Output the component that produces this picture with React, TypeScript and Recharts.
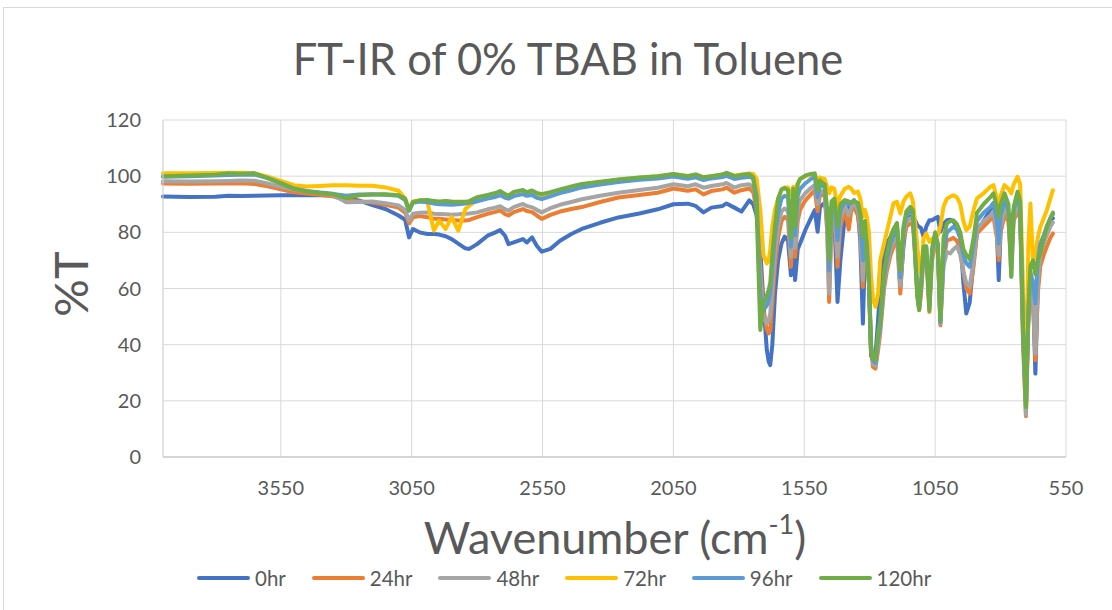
import React from 'react';
import { LineChart, Line, XAxis, YAxis, CartesianGrid } from 'recharts';

const wavenumbers = [
  4000,3900,3800,3750,3700,3650,3600,3550,3500,3450,
  3400,3350,3300,3250,3200,3150,3100,3075,3060,3045,
  3020,2990,2965,2945,2920,2897,2872,2845,2830,2800,
  2760,2730,2712,2693,2680,2660,2625,2610,2590,2572,
  2553,2520,2483,2440,2400,2330,2260,2180,2110,2050,
  1995,1965,1935,1905,1862,1847,1817,1790,1760,1745,
  1732,1718,1706,1693,1686,1680,1672,1662,1650,1637,
  1625,1612,1601,1592,1585,1575,1566,1545,1525,1510,
  1499,1490,1472,1462,1455,1446,1435,1423,1412,1395,
  1380,1370,1360,1345,1336,1326,1318,1311,1303,1295,
  1287,1278,1268,1260,1245,1235,1220,1209,1196,1183,
  1171,1160,1145,1135,1126,1118,1111,1104,1094,1084,
  1072,1062,1050,1040,1030,1018,1005,992,980,967,
  954,942,931,918,903,890,865,839,827,814,
  807,800,785,770,759,750,735,725,714,703,
  694,686,676,667,658,648,635,623,610,600,
];

const t0hr = [
  92.8,92.6,92.7,93.0,92.9,93.0,93.1,93.2,93.2,93.3,
  93.2,93.1,92.3,91.3,89.7,88.3,86.0,84.5,78.2,81.2,
  80.0,79.4,79.4,79.2,78.6,77.6,76.0,74.3,74.1,75.8,
  78.8,80.0,80.8,78.8,75.8,76.4,77.6,76.4,78.2,75.2,
  73.1,74.1,77.0,79.4,81.2,83.4,85.3,86.7,88.2,90.0,
  90.2,89.4,87.1,88.8,89.4,90.3,88.8,87.4,91.4,90.0,
  86.0,74.0,55.0,38.0,34.0,32.7,40.0,58.0,70.0,76.0,
  78.5,77.0,64.7,77.0,63.0,74.0,76.0,81.0,85.0,87.9,
  80.2,89.0,90.5,86.0,82.0,88.0,85.0,55.2,70.0,86.0,
  89.0,90.5,91.4,87.0,77.0,47.5,73.6,72.0,65.0,36.0,
  34.5,36.0,48.7,60.6,73.0,76.0,78.4,81.0,83.2,60.6,
  74.9,84.0,85.5,84.8,84.3,82.5,82.0,81.5,78.4,82.0,
  84.3,84.3,85.0,85.5,80.2,83.0,84.3,84.5,83.8,82.0,
  78.0,62.0,51.1,55.0,70.0,80.0,84.0,88.0,90.3,80.0,
  63.0,80.0,87.9,86.0,85.0,87.0,89.0,86.0,50.0,22.6,
  50.0,62.0,60.0,29.7,60.0,73.0,78.0,82.0,84.5,85.0,
];

const t24hr = [
  97.4,97.3,97.4,97.4,97.5,97.2,96.4,95.3,94.3,93.8,
  93.4,92.8,91.4,91.0,90.6,89.8,88.8,87.0,83.2,85.4,
  85.8,85.4,84.8,84.8,84.6,84.4,84.2,84.2,84.4,85.4,
  86.6,87.3,87.8,86.5,86.0,87.2,88.3,87.6,87.2,86.0,
  84.8,86.2,87.4,88.3,89.0,90.8,92.4,93.3,94.1,95.6,
  94.8,95.3,93.5,94.7,95.3,95.9,94.1,95.0,95.6,94.3,
  88.0,68.0,52.0,45.5,44.0,45.0,55.0,68.0,78.0,84.0,
  85.5,84.5,67.7,84.0,71.3,84.0,88.0,91.5,93.5,95.0,
  87.5,93.5,93.0,80.0,55.2,82.0,86.0,67.7,82.0,88.0,
  81.0,88.0,89.0,86.0,80.0,60.6,76.0,72.0,62.0,38.0,
  32.0,31.5,38.0,44.0,60.0,66.0,72.0,74.9,78.4,58.2,
  77.2,82.0,83.2,82.5,72.0,58.0,52.3,58.0,71.3,72.0,
  51.7,70.0,76.0,74.0,46.9,70.0,77.2,77.5,78.0,77.0,
  74.0,66.0,60.0,58.2,68.0,79.6,82.0,84.5,85.5,78.0,
  70.1,80.0,86.0,84.0,70.0,84.0,88.0,85.0,40.0,14.5,
  48.0,60.0,55.0,34.5,58.0,68.0,72.0,75.0,78.0,79.6,
];

const t48hr = [
  98.2,98.1,98.2,98.3,98.5,98.4,97.4,96.2,95.2,94.5,
  94.0,93.3,90.7,90.8,91.0,90.4,89.6,88.0,84.2,86.6,
  87.0,87.1,86.6,86.5,86.4,86.3,86.4,86.6,86.7,87.1,
  88.2,88.8,89.3,88.2,87.7,89.0,90.1,89.4,88.9,88.0,
  87.1,88.6,89.8,90.8,91.8,93.0,94.1,95.1,95.9,97.1,
  96.4,97.1,95.9,96.5,97.1,97.6,95.9,96.8,97.1,96.0,
  90.0,64.0,50.0,47.5,48.5,51.0,60.0,73.0,82.0,87.5,
  88.5,87.5,71.3,87.5,74.5,88.0,91.5,94.0,95.8,96.8,
  90.0,95.0,94.0,82.0,58.2,85.0,88.0,71.3,85.0,89.5,
  86.0,89.0,90.5,88.0,83.0,63.0,78.5,74.0,64.0,40.0,
  33.3,32.5,40.0,46.0,62.0,68.0,74.0,77.0,80.0,61.0,
  79.0,84.0,85.0,84.5,74.0,60.0,54.0,60.0,73.0,74.0,
  54.0,72.0,77.5,75.0,47.5,68.0,73.0,72.5,74.0,75.0,
  72.0,66.0,62.0,60.6,70.0,81.0,84.0,86.0,87.5,80.0,
  72.0,82.0,88.0,86.0,64.2,85.0,90.0,87.0,42.0,15.0,
  50.0,62.0,58.0,36.8,62.0,72.0,76.0,79.0,82.0,83.5,
];

const t72hr = [
  101.0,101.0,101.1,101.2,101.2,101.0,99.8,98.3,96.8,96.3,
  96.5,96.8,96.8,96.6,96.6,96.0,94.8,92.0,88.0,91.0,
  91.3,91.0,80.6,84.2,81.2,85.4,80.6,88.3,89.5,91.5,
  92.8,93.5,94.2,93.3,93.0,93.8,94.6,94.0,94.3,93.5,
  93.1,93.8,95.0,96.0,97.0,97.8,98.7,99.4,100.0,100.7,
  100.1,100.5,99.6,100.0,100.6,101.1,100.2,100.6,101.0,100.8,
  99.0,88.0,72.0,68.9,70.0,74.0,82.0,88.0,92.0,95.0,
  96.0,96.0,93.5,96.2,95.0,97.5,99.0,100.0,100.6,100.8,
  98.0,99.5,99.0,96.0,93.9,96.0,95.5,89.1,93.0,95.5,
  96.2,95.5,94.0,94.5,92.0,85.5,88.0,85.5,80.0,65.0,
  56.0,53.5,58.0,70.1,76.0,80.0,86.0,90.3,90.9,86.7,
  91.0,92.7,93.9,91.0,83.2,75.0,68.0,65.4,78.0,79.6,
  76.6,77.5,78.4,79.0,82.0,89.1,92.0,92.7,93.2,92.5,
  90.0,84.0,80.8,82.0,88.0,92.1,93.9,96.2,96.8,92.0,
  89.1,93.0,96.8,95.5,93.9,97.0,99.8,97.0,60.0,20.0,
  75.0,90.3,70.0,72.0,78.0,82.0,85.0,87.9,92.0,95.0,
];

const t96hr = [
  99.8,100.0,100.2,100.4,100.5,100.6,99.3,97.5,95.6,94.7,
  94.2,93.7,93.0,93.5,93.6,93.4,93.0,91.5,87.7,90.5,
  91.0,90.7,90.3,90.0,89.9,89.8,90.0,90.3,90.5,91.0,
  92.0,92.6,93.2,92.3,92.0,92.9,93.6,93.0,93.3,92.3,
  91.8,92.8,94.0,95.0,96.0,97.0,97.9,98.7,99.2,99.9,
  99.1,99.6,98.6,99.2,99.7,100.1,99.0,99.4,99.8,99.2,
  93.0,58.0,52.3,54.0,56.0,59.0,68.0,79.0,87.0,92.0,
  93.0,92.5,74.9,91.5,79.0,93.0,95.5,97.5,99.0,99.8,
  92.5,97.0,96.0,86.0,66.4,89.0,91.0,77.2,88.0,91.0,
  90.0,90.5,91.5,90.0,86.0,70.0,82.0,76.0,64.0,40.0,
  34.4,33.5,42.0,47.0,64.0,70.0,76.0,79.0,82.0,64.0,
  80.5,86.0,87.5,86.5,72.0,58.0,53.0,60.0,74.0,75.0,
  54.0,73.0,79.0,76.0,48.0,73.0,80.0,81.0,82.0,81.0,
  78.0,72.0,69.0,67.7,76.0,84.0,87.0,89.0,90.5,84.0,
  76.0,86.0,91.0,88.0,70.0,88.0,92.0,89.0,45.0,18.0,
  52.0,66.0,62.0,54.7,70.0,76.0,79.0,82.0,85.0,86.5,
];

const t120hr = [
  100.0,100.2,100.5,101.0,100.9,101.0,99.3,97.4,95.5,94.5,
  94.0,93.6,92.2,93.2,93.5,93.6,93.2,92.0,87.8,90.8,
  91.4,91.5,91.2,91.0,91.2,91.0,90.9,90.9,91.1,92.5,
  93.3,94.0,94.7,93.6,93.1,94.4,95.1,94.3,94.9,94.0,
  93.6,94.3,95.3,96.3,97.2,98.0,98.8,99.5,100.0,100.8,
  100.0,100.6,99.6,100.0,100.6,101.2,100.0,100.4,100.8,99.6,
  88.0,45.2,55.0,57.5,59.5,62.0,72.0,82.0,92.0,95.3,
  95.8,95.0,78.0,95.5,82.0,97.0,99.0,100.3,100.8,101.0,
  95.0,98.5,97.0,88.0,70.0,91.0,92.0,82.0,90.0,91.5,
  91.0,90.5,91.0,90.5,87.0,78.4,84.0,71.0,62.0,38.0,
  35.0,34.5,44.0,48.7,66.0,72.0,78.4,81.0,83.2,66.5,
  82.0,87.5,89.1,87.9,70.0,57.0,52.3,62.0,74.9,75.0,
  52.3,74.0,80.0,76.0,48.5,78.0,83.2,84.0,84.3,83.0,
  80.0,74.0,72.0,70.5,78.0,87.0,90.0,92.5,93.9,89.0,
  85.5,90.0,93.9,90.0,64.2,89.0,94.5,91.0,45.0,17.8,
  50.0,68.0,70.0,65.0,70.0,72.5,78.0,82.0,85.0,87.0,
];

const seriesNames = ['0hr', '24hr', '48hr', '72hr', '96hr', '120hr'];
const seriesColors = ['#4472C4', '#ED7D31', '#A5A5A5', '#FFC000', '#5B9BD5', '#70AD47'];
const seriesValues = [t0hr, t24hr, t48hr, t72hr, t96hr, t120hr];

const xTicks = [3550, 3050, 2550, 2050, 1550, 1050, 550];
const yTicks = [0, 20, 40, 60, 80, 100, 120];

const titleText = 'FT-IR of 0% TBAB in Toluene';
const yTitle = '%T';

const data = wavenumbers.map((wn, i) => {
  const row: Record<string, number> = { wn };
  seriesNames.forEach((name, s) => {
    row[name] = seriesValues[s][i];
  });
  return row;
});

const FONT = 'Lato, "Open Sans", sans-serif';
const TEXT = '#595959';

export default function App() {
  return (
    <div
      style={{
        position: 'absolute',
        left: 0,
        top: 0,
        width: 1112,
        height: 610,
        overflow: 'hidden',
        background: '#ffffff',
        fontFamily: FONT,
        color: TEXT,
      }}
    >
      <div
        style={{
          position: 'absolute',
          left: 3,
          top: 7,
          width: 1200,
          height: 700,
          border: '1px solid #d9d9d9',
          boxSizing: 'border-box',
        }}
      />
      <div
        style={{
          position: 'absolute',
          left: 68,
          width: 1000,
          top: 37,
          textAlign: 'center',
          fontSize: 43.5,
          lineHeight: '43.5px',
          whiteSpace: 'nowrap',
        }}
      >
        {titleText}
      </div>
      <div style={{ position: 'absolute', left: 0, top: 0 }}>
        <LineChart
          width={1112}
          height={610}
          data={data}
          margin={{ top: 120, right: 46, bottom: 93, left: 0 }}
        >
          <CartesianGrid stroke="#d9d9d9" strokeWidth={1} vertical={true} horizontal={true} />
          <XAxis
            dataKey="wn"
            type="number"
            domain={[550, 4000]}
            reversed
            ticks={xTicks}
            interval={0}
            height={60}
            tickLine={false}
            tickSize={0}
            tickMargin={24}
            axisLine={{ stroke: '#bfbfbf', strokeWidth: 1 }}
            tick={{ fill: TEXT, fontSize: 20, fontFamily: FONT }}
          />
          <YAxis
            type="number"
            domain={[0, 120]}
            ticks={yTicks}
            interval={0}
            width={163}
            tickLine={false}
            tickSize={0}
            tickMargin={22}
            axisLine={{ stroke: '#d9d9d9', strokeWidth: 1 }}
            tick={{ fill: TEXT, fontSize: 20, fontFamily: FONT }}
          />
          {seriesNames.map((name, s) => (
            <Line
              key={name}
              dataKey={name}
              name={name}
              type="linear"
              stroke={seriesColors[s]}
              strokeWidth={4}
              strokeLinejoin="round"
              strokeLinecap="round"
              dot={false}
              activeDot={false}
              isAnimationActive={false}
            />
          ))}
        </LineChart>
      </div>
      <div
        style={{
          position: 'absolute',
          left: 70 - 40,
          top: 284 - 27,
          width: 80,
          height: 54,
          lineHeight: '54px',
          textAlign: 'center',
          fontSize: 47,
          transform: 'rotate(-90deg)',
          whiteSpace: 'nowrap',
        }}
      >
        {yTitle}
      </div>
      <div
        style={{
          position: 'absolute',
          left: 315,
          width: 600,
          top: 515,
          textAlign: 'center',
          fontSize: 45,
          lineHeight: '45px',
          whiteSpace: 'nowrap',
        }}
      >
        Wavenumber (cm<sup style={{ fontSize: '0.6em', verticalAlign: '0.75em', lineHeight: 0 }}>-1</sup>)
      </div>
      <div
        style={{
          position: 'absolute',
          left: 197,
          top: 566,
          height: 24,
          display: 'flex',
          alignItems: 'center',
          fontSize: 20.5,
          whiteSpace: 'nowrap',
        }}
      >
        {seriesNames.map((name, s) => (
          <div key={name} style={{ display: 'flex', alignItems: 'center', marginRight: 26 }}>
            <div
              style={{
                width: 53,
                height: 4,
                borderRadius: 2,
                background: seriesColors[s],
                marginRight: 5,
              }}
            />
            <span>{name}</span>
          </div>
        ))}
      </div>
    </div>
  );
}
